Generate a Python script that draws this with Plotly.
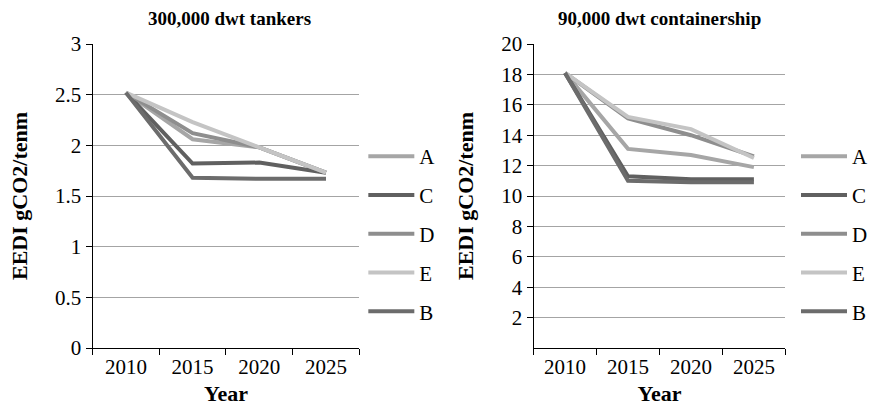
import plotly.graph_objects as go

years = ["2010", "2015", "2020", "2025"]
series_names = ["A", "C", "D", "E", "B"]
series_colors = ["#a6a6a6", "#606060", "#8e8e8e", "#c4c4c4", "#6c6c6c"]

tank_A = [2.52, 2.06, 1.98, 1.73]
tank_C = [2.52, 1.82, 1.83, 1.73]
tank_D = [2.52, 2.12, 1.98, 1.73]
tank_E = [2.52, 2.23, 1.98, 1.73]
tank_B = [2.52, 1.68, 1.67, 1.67]

cont_A = [18.1, 13.1, 12.7, 11.9]
cont_C = [18.1, 11.3, 11.1, 11.1]
cont_D = [18.1, 15.1, 14.0, 12.6]
cont_E = [18.1, 15.2, 14.4, 12.5]
cont_B = [18.1, 11.0, 10.9, 10.9]

tank_vals = [tank_A, tank_C, tank_D, tank_E, tank_B]
cont_vals = [cont_A, cont_C, cont_D, cont_E, cont_B]

left_ticks = [0, 0.5, 1, 1.5, 2, 2.5, 3]
left_ticktext = ["0", "0.5", "1", "1.5", "2", "2.5", "3"]
right_ticks = [2, 4, 6, 8, 10, 12, 14, 16, 18, 20]

FONT = "Liberation Serif, Times New Roman, serif"

fig = go.Figure()
for name, col, v in zip(series_names, series_colors, tank_vals):
    fig.add_trace(go.Scatter(x=years, y=v, name=name, mode="lines",
                             line=dict(color=col, width=4),
                             xaxis="x", yaxis="y", legend="legend",
                             legendgroup="l" + name))
for name, col, v in zip(series_names, series_colors, cont_vals):
    fig.add_trace(go.Scatter(x=years, y=v, name=name, mode="lines",
                             line=dict(color=col, width=4),
                             xaxis="x2", yaxis="y2", legend="legend2",
                             legendgroup="r" + name))

W, H = 873, 418
ydom = [(H - 348) / H, (H - 44) / H]

axis_common = dict(showline=True, linecolor="black", linewidth=1, automargin=False,
                   tickfont=dict(family=FONT, size=21, color="black"),
                   ticks="outside", ticklen=6, tickcolor="black")

title_font = dict(family=FONT, size=22, color="black")

legend_common = dict(font=dict(family=FONT, size=21, color="black"),
                     tracegroupgap=8.5, bgcolor="rgba(0,0,0,0)", itemwidth=46,
                     xanchor="left", yanchor="top")

fig.update_layout(
    width=W, height=H,
    margin=dict(l=0, r=0, t=0, b=0, pad=0),
    paper_bgcolor="white", plot_bgcolor="white",
    font=dict(family=FONT, size=21, color="black"),
    xaxis=dict(domain=[93 / W, 361 / W], type="category", range=[-0.5, 3.5],
               tickson="boundaries", anchor="y",
               title=dict(text="<b>Year</b>", font=title_font, standoff=7),
               **axis_common),
    yaxis=dict(domain=ydom, range=[0, 3], tickvals=left_ticks, ticktext=left_ticktext,
               showgrid=True, gridcolor="#a4a4a4", gridwidth=1, zeroline=False, anchor="x",
               title=dict(text="<b>EEDI gCO2/tenm</b>", font=title_font, standoff=21),
               **axis_common),
    xaxis2=dict(domain=[536 / W, 789 / W], type="category", range=[-0.5, 3.5],
                tickson="boundaries", anchor="y2",
                title=dict(text="<b>Year</b>", font=title_font, standoff=7),
                **axis_common),
    yaxis2=dict(domain=ydom, range=[0, 20], tickvals=right_ticks,
                showgrid=True, gridcolor="#a4a4a4", gridwidth=1, zeroline=False, anchor="x2",
                title=dict(text="<b>EEDI gCO2/tenm</b>", font=title_font, standoff=21),
                **axis_common),
    legend=dict(x=365 / W, y=1 - 136 / H, **legend_common),
    legend2=dict(x=800 / W, y=1 - 136 / H, **legend_common),
    annotations=[
        dict(text="<b>300,000 dwt tankers</b>", x=231 / W, y=1 - 18 / H, xref="paper", yref="paper",
             showarrow=False, font=dict(family=FONT, size=19), xanchor="center", yanchor="middle"),
        dict(text="<b>90,000 dwt containership</b>", x=663 / W, y=1 - 18 / H, xref="paper", yref="paper",
             showarrow=False, font=dict(family=FONT, size=19), xanchor="center", yanchor="middle"),
    ],
)

fig.write_html("out.html", config={"displayModeBar": False},
               post_script="document.body.style.margin='0';document.body.style.overflow='hidden';")
